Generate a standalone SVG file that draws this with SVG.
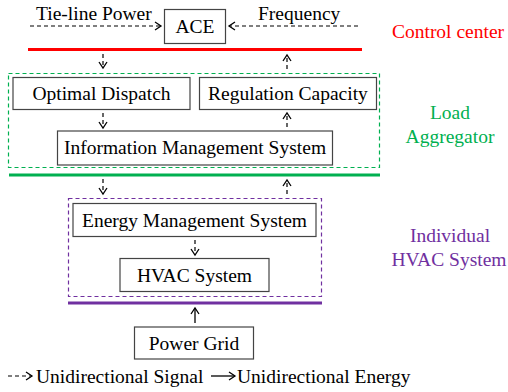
<svg xmlns="http://www.w3.org/2000/svg" width="508" height="392" viewBox="0 0 508 392">
<defs>
<marker id="ah" markerWidth="10" markerHeight="10" refX="8" refY="5" orient="auto" markerUnits="userSpaceOnUse">
<path d="M2,1 L8,5 L2,9" fill="none" stroke="#000" stroke-width="1.3"/>
</marker>
<style>
.box{fill:#fff;stroke:#444;stroke-width:1.2}
.t{font-family:"Liberation Serif","Times New Roman",serif;font-size:19.5px;fill:#000}
.sig{stroke:#000;stroke-width:1.2;stroke-dasharray:4 3;fill:none}
.en{stroke:#000;stroke-width:1.3;fill:none}
</style>
</defs>
<rect width="508" height="392" fill="#fff"/>
<g id="layer-boxes">
<rect x="8.5" y="73.5" width="371" height="94" fill="none" stroke="#00b050" stroke-width="1.2" stroke-dasharray="4 3"/>
<rect x="68.5" y="198.5" width="253" height="98" fill="none" stroke="#7030a0" stroke-width="1.2" stroke-dasharray="4 3"/>
<line x1="28" y1="49.5" x2="362" y2="49.5" stroke="#ff0000" stroke-width="3"/>
<line x1="9" y1="175" x2="380" y2="175" stroke="#00b050" stroke-width="3"/>
<line x1="68" y1="303" x2="322" y2="303" stroke="#7030a0" stroke-width="3"/>
<text class="t" x="448" y="38" text-anchor="middle" style="fill:#ff0000">Control center</text>
<text class="t" x="450" y="119" text-anchor="middle" style="fill:#00b050">Load</text>
<text class="t" x="450" y="143" text-anchor="middle" style="fill:#00b050">Aggregator</text>
<text class="t" x="450" y="242" text-anchor="middle" style="fill:#7030a0">Individual</text>
<text class="t" x="449" y="266" text-anchor="middle" style="fill:#7030a0">HVAC System</text>
</g>
<g id="ace"><rect class="box" x="164.5" y="9.5" width="61" height="34"/><text class="t" x="195" y="33" text-anchor="middle">ACE</text></g>
<g id="optimal-dispatch"><rect class="box" x="13" y="77.5" width="177" height="32"/><text class="t" x="101.5" y="99.5" text-anchor="middle">Optimal Dispatch</text></g>
<g id="regulation-capacity"><rect class="box" x="199.5" y="77.5" width="177" height="32"/><text class="t" x="288" y="99.5" text-anchor="middle">Regulation Capacity</text></g>
<g id="info-mgmt"><rect class="box" x="57.5" y="131" width="275" height="34"/><text class="t" x="195" y="154" text-anchor="middle">Information Management System</text></g>
<g id="energy-mgmt"><rect class="box" x="73" y="203.5" width="243" height="33"/><text class="t" x="194.5" y="227" text-anchor="middle">Energy Management System</text></g>
<g id="hvac"><rect class="box" x="120" y="258.5" width="149" height="33"/><text class="t" x="194.5" y="282" text-anchor="middle">HVAC System</text></g>
<g id="power-grid"><rect class="box" x="134.5" y="327" width="119" height="32"/><text class="t" x="194" y="350" text-anchor="middle">Power Grid</text></g>
<g id="connectors">
<text class="t" x="36" y="20">Tie-line Power</text>
<text class="t" x="258" y="20">Frequency</text>
<line class="sig" x1="30" y1="26" x2="161" y2="26" marker-end="url(#ah)"/>
<line class="sig" x1="358" y1="26" x2="229" y2="26" marker-end="url(#ah)"/>
<line class="sig" x1="103" y1="54" x2="103" y2="68" marker-end="url(#ah)"/>
<line class="sig" x1="287" y1="69" x2="287" y2="55" marker-end="url(#ah)"/>
<line class="sig" x1="103" y1="113" x2="103" y2="128" marker-end="url(#ah)"/>
<line class="sig" x1="287" y1="127" x2="287" y2="113" marker-end="url(#ah)"/>
<line class="sig" x1="103" y1="179" x2="103" y2="194" marker-end="url(#ah)"/>
<line class="sig" x1="287" y1="194" x2="287" y2="180" marker-end="url(#ah)"/>
<line class="sig" x1="195" y1="240" x2="195" y2="255" marker-end="url(#ah)"/>
<line class="en" x1="195" y1="323" x2="195" y2="308" marker-end="url(#ah)"/>
</g>
<g id="legend">
<line class="sig" x1="8" y1="376" x2="32" y2="376" marker-end="url(#ah)"/>
<text class="t" x="36" y="383">Unidirectional Signal</text>
<line class="en" x1="211" y1="376" x2="235" y2="376" marker-end="url(#ah)"/>
<text class="t" x="237" y="383">Unidirectional Energy</text>
</g>
</svg>
